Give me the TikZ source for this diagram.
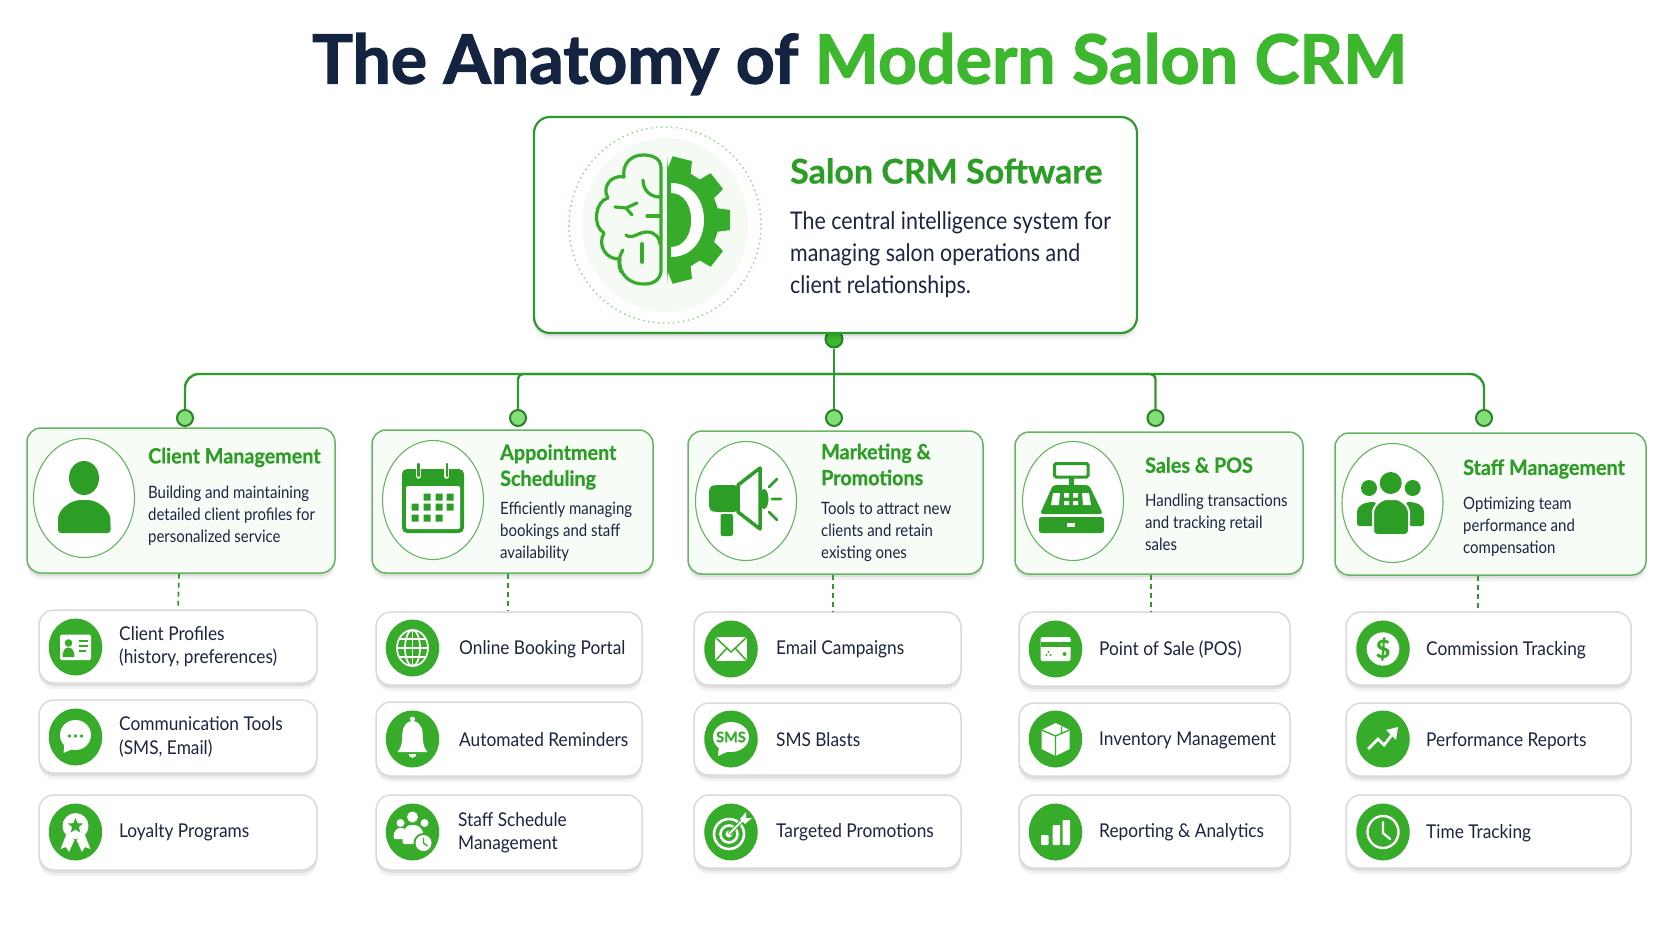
\documentclass[tikz,border=0pt]{standalone}
\usepackage{fontspec}
\setmainfont{Lato}
\newfontfamily\bannerfont{Lato}[FakeBold=1.7]
\newfontfamily\widefont{Lato}[FakeBold=.6]
\newfontfamily\headfont{Lato}[FakeStretch=.94,FakeBold=.6]
\newfontfamily\bodyfont{Lato}[FakeStretch=.88]
\newfontfamily\subfont{Lato}[FakeStretch=.91]
\usetikzlibrary{shapes.geometric,shadows}
\definecolor{navy}{HTML}{14233F}
\definecolor{ink}{HTML}{1C2540}
\definecolor{brightgreen}{HTML}{3DB82E}
\definecolor{headgreen}{HTML}{2C9E26}
\definecolor{discgreen}{HTML}{36AC2A}
\definecolor{linegreen}{HTML}{2E9A2E}
\definecolor{cardline}{HTML}{66B561}
\definecolor{cardfill}{HTML}{F8FCF7}
\definecolor{subline}{HTML}{DADADA}
\definecolor{halo}{HTML}{F5FBF4}
\definecolor{dotfill}{HTML}{86DE78}
\tikzset{
softshadow/.style={drop shadow={shadow xshift=0pt,shadow yshift=-3pt,opacity=.08,fill=black},drop shadow={shadow xshift=0pt,shadow yshift=-6pt,opacity=.05,fill=black}},
maincard/.style={draw=linegreen,fill=white,line width=2.2,rounded corners=16,inner sep=0,softshadow},
seccard/.style={draw=cardline,fill=cardfill,line width=1.5,rounded corners=14,inner sep=0,softshadow},
subcard/.style={draw=subline,fill=white,line width=1.5,rounded corners=15,inner sep=0,softshadow},
secring/.style={ellipse,draw=cardline,fill=white,line width=1.1,inner sep=0,minimum width=101,minimum height=119},
disc/.style={ellipse,fill=discgreen,inner sep=0,minimum width=53.5,minimum height=57},
hubdot/.style={circle,draw=linegreen!85!black,fill=brightgreen,line width=2,inner sep=0,minimum size=17},
enddot/.style={circle,draw=linegreen!85!black,fill=dotfill,line width=2,inner sep=0,minimum size=16},
bus/.style={draw=linegreen,line width=2.4},
droplink/.style={draw=linegreen,line width=1.7,dash pattern=on 5pt off 4pt},
sectitle/.style={anchor=west,inner sep=0,align=left,text=headgreen,font=\headfont\bfseries\fontsize{21}{26}\selectfont},
secdesc/.style={anchor=west,inner sep=0,align=left,text=ink,font=\bodyfont\fontsize{17}{22}\selectfont},
subtext/.style={anchor=west,inner sep=0,align=left,text=ink,font=\subfont\fontsize{19}{23.5}\selectfont},
}
\begin{document}
\begin{tikzpicture}[x=1pt,y=-1pt]
\useasboundingbox (0,0) rectangle (1672,941);
\fill[white] (0,0) rectangle (1672,941);
%heading
\node[anchor=west,inner sep=0,text=navy,font=\bannerfont\bfseries\fontsize{68}{80}\selectfont] (heading) at (312,64) {The Anatomy of \textcolor{brightgreen}{Modern Salon CRM}};
%main card, the dot goes under it
\node[hubdot] (hubdot) at (834,339) {};
\node[maincard,minimum width=603,minimum height=216] (main) at (835.5,225) {};
\node[ellipse,draw=brightgreen!55!white,fill=white,line width=1.5,dash pattern=on 1.5pt off 3.5pt,inner sep=0,minimum width=192,minimum height=196] (mainring) at (665,225) {};
\node[ellipse,fill=halo,inner sep=0,minimum width=166,minimum height=174] (mainhalo) at (665,225) {};
\node[anchor=west,inner sep=0,text=headgreen,font=\widefont\bfseries\fontsize{34}{38}\selectfont] (maintitle) at (790,171) {Salon CRM Software};
\node[anchor=west,inner sep=0,align=left,text=ink,font=\bodyfont\fontsize{24.3}{32}\selectfont] (maindesc) at (790,255) {The central intelligence system for\\managing salon operations and\\client relationships.};
%brain
\begin{scope}[draw=discgreen,line width=3.2,line cap=round,line join=round]
\draw (661,168) .. controls (661,158) and (652,155) .. (643,155) .. controls (630,155) and (622,165) .. (624,177) .. controls (612,174) and (601,187) .. (608,198) .. controls (595,201) and (592,226) .. (604,233) .. controls (597,245) and (606,260) .. (620,259) .. controls (618,274) and (630,285) .. (645,284) .. controls (655,284) and (661,278) .. (661,270) -- cycle;
\draw (643,180) .. controls (643,190) and (650,197) .. (660,197);
\draw (615,207) -- (626,208) -- (637,203);
\draw (626,208) -- (632,215);
\draw (647,216) -- (660,216);
\draw (626,235) .. controls (632,240) and (638,232) .. (647,232) .. controls (655,232) and (660,238) .. (660,244);
\draw (623,250) .. controls (618,258) and (618,265) .. (621,272);
\draw[line width=3.8] (642,244) -- (642,262);
\end{scope}
%gear
\begin{scope}[shift={(667,220)}]
\fill[discgreen] (0,-63) foreach \a in {-76,-38,0,38,76} {-- ({\a-13}:52) -- ({\a-9}:64) -- ({\a+9}:64) -- ({\a+13}:52)} -- (0,63) -- cycle;
\fill[white] (4,-37) .. controls (48,-37) and (48,37) .. (4,37) -- (4,27) .. controls (31,27) and (31,-27) .. (4,-27) -- cycle;
\end{scope}
%trunk and branches
\coordinate (bushub) at (834,374);
\node[enddot] (clientdot) at (185,418) {};
\node[enddot] (apptdot) at (518,418) {};
\node[enddot] (marketdot) at (834,418) {};
\node[enddot] (salesdot) at (1155.5,418) {};
\node[enddot] (staffdot) at (1484,418) {};
\draw[bus,rounded corners=14] (clientdot) |- (bushub) -| (staffdot);
\draw[bus,rounded corners=5] (apptdot) |- (bushub);
\draw[bus,rounded corners=5] (salesdot) |- (bushub);
\draw[bus] (hubdot) -- (marketdot);
%client column
\node[seccard,minimum width=308,minimum height=145] (client) at (181,500.5) {};
\node[secring] (clientring) at (84,498) {};
\node[sectitle] (clienttitle) at (148,457.5) {Client Management};
\node[secdesc] (clientdesc) at (148,516) {Building and maintaining\\detailed client profiles for\\personalized service};
\fill[headgreen] (84,478) ellipse (15 and 17);
\fill[headgreen,rounded corners=3] (58,522) .. controls (58,510) and (70,500) .. (84,500) .. controls (98,500) and (110,510) .. (110.5,522) -- (110.5,533) -- (58,533) -- cycle;
\node[subcard,minimum width=278,minimum height=73] (clientA) at (178,646.5) {};
\node[subcard,minimum width=278,minimum height=73] (clientB) at (178,736.5) {};
\node[subcard,minimum width=278,minimum height=75] (clientC) at (178,832.5) {};
\draw[droplink] ([xshift=-2pt]client.south) -- (clientA.north);
\node[disc] (clientAdisc) at (75.5,647) {};
\node[disc] (clientBdisc) at (75.5,737) {};
\node[disc] (clientCdisc) at (75.5,832) {};
\node[subtext] (clientAtext) at (119,646.5) {Client Profiles\\(history, preferences)};
\node[subtext] (clientBtext) at (119,737) {Communication Tools\\(SMS, Email)};
\node[subtext] (clientCtext) at (119,832.5) {Loyalty Programs};
%id card
\begin{scope}[shift={(clientAdisc.center)}]
\fill[white,rounded corners=1.5] (-15.5,-12.5) rectangle (15.5,13);
\fill[discgreen] (-7,-4) circle (3.8);
\fill[discgreen] (-13,10) .. controls (-13,3) and (-10,0.5) .. (-7,0.5) .. controls (-4,0.5) and (-1,3) .. (-1,10) -- cycle;
\draw[discgreen,line width=1.3] (3,-6) -- (12,-6) (3,-1) -- (12,-1) (3,4) -- (10,4);
\end{scope}
%chat bubble
\begin{scope}[shift={(clientBdisc.center)}]
\fill[white] (0,-2) ellipse (15.5 and 15);
\fill[white] (-11,6) -- (-12,16) -- (-1,11) -- cycle;
\fill[discgreen] (-6,-1) circle (1.8) (0,-1) circle (1.8) (6,-1) circle (1.8);
\end{scope}
%award
\begin{scope}[shift={(clientCdisc.center)}]
\fill[white] (-9,2) -- (-15,17) -- (-9.5,15) -- (-6.5,20) -- (-1,8) -- cycle;
\fill[white] (9,2) -- (15,17) -- (9.5,15) -- (6.5,20) -- (1,8) -- cycle;
\fill[white] (0,-6) circle (13);
\begin{scope}[shift={(0,-6)}]
\fill[discgreen] (-90:8) foreach \a in {1,...,9} {-- ({-90+36*\a}:{8-4.5*mod(\a,2)})} -- cycle;
\end{scope}
\end{scope}
%appointment column
\node[seccard,minimum width=281,minimum height=143] (appt) at (512.5,501.5) {};
\node[secring] (apptring) at (433,500) {};
\node[sectitle] (appttitle) at (500,467) {Appointment\\Scheduling};
\node[secdesc] (apptdesc) at (500,532) {Efficiently managing\\bookings and staff\\availability};
%calendar
\fill[headgreen,rounded corners=5] (402,469) rectangle (464,533);
\fill[white,rounded corners=2] (406,486) rectangle (460,529);
\draw[white,line width=5.5,line cap=round] (418.5,466) -- (418.5,476) (446.7,466) -- (446.7,476);
\draw[headgreen,line width=2.4,line cap=round] (418.5,464) -- (418.5,476) (446.7,464) -- (446.7,476);
\fill[headgreen] (423.5,493.5) rectangle +(7,7) (435.5,493.5) rectangle +(7,7) (446.5,493.5) rectangle +(7,7);
\fill[headgreen] (411.5,503.5) rectangle +(7,7) (423.5,503.5) rectangle +(7,7) (435.5,503.5) rectangle +(7,7) (446.5,503.5) rectangle +(7,7);
\fill[headgreen] (411.5,514.5) rectangle +(7,7) (423.5,514.5) rectangle +(7,7) (435.5,514.5) rectangle +(7,7);
\node[subcard,minimum width=266,minimum height=73] (apptA) at (509,648.5) {};
\node[subcard,minimum width=266,minimum height=74] (apptB) at (509,739) {};
\node[subcard,minimum width=266,minimum height=75] (apptC) at (509,832.5) {};
\draw[droplink] ([xshift=-4.5pt]appt.south) -- ([xshift=-1pt]apptA.north);
\node[disc] (apptAdisc) at (412.5,648) {};
\node[disc] (apptBdisc) at (412.5,739) {};
\node[disc] (apptCdisc) at (412.5,832) {};
\node[subtext] (apptAtext) at (459,649) {Online Booking Portal};
\node[subtext] (apptBtext) at (459,740) {Automated Reminders};
\node[subtext] (apptCtext) at (458,832.5) {Staff Schedule\\Management};
%globe
\begin{scope}[shift={(apptAdisc.center)},white,line width=1.7]
\draw (0,0) ellipse (15.5 and 18);
\draw (0,0) ellipse (7.5 and 18);
\draw (0,-18) -- (0,18);
\draw (-15,0) -- (15,0);
\draw (-12.5,-9) -- (12.5,-9);
\draw (-12.5,9) -- (12.5,9);
\end{scope}
%bell
\begin{scope}[shift={(apptBdisc.center)}]
\fill[white] (0,-20) circle (2.5);
\fill[white] (-15,13) .. controls (-9,6) and (-11,0) .. (-10,-7) .. controls (-9,-15) and (-4,-18) .. (0,-18) .. controls (4,-18) and (9,-15) .. (10,-7) .. controls (11,0) and (9,6) .. (15,13) -- cycle;
\fill[white] (-4,15) .. controls (-3,20) and (3,20) .. (4,15) -- cycle;
\end{scope}
%staff and clock
\begin{scope}[shift={(apptCdisc.center)}]
\fill[white] (0,-15) circle (5.5) (-12,-9) circle (4) (12,-9) circle (4);
\fill[white,rounded corners=2] (-19,7) .. controls (-19,-1) and (-15,-4) .. (-11,-4) -- (-8,-4) -- (-8,7) -- cycle;
\fill[white,rounded corners=2] (-10,12) .. controls (-10,-4) and (-5,-7) .. (0,-7) .. controls (5,-7) and (11,-4) .. (11,6) -- (2,12) -- cycle;
\fill[discgreen] (11,11) circle (10);
\fill[white] (11,11) circle (8);
\draw[discgreen,line width=1.4] (11,6) -- (11,11) -- (15,14);
\end{scope}
%marketing column
\node[seccard,minimum width=295,minimum height=143] (market) at (835.5,502.5) {};
\node[secring] (marketring) at (746,501) {};
\node[sectitle] (markettitle) at (821,464.5) {Marketing \&\\Promotions};
\node[secdesc] (marketdesc) at (821,532) {Tools to attract new\\clients and retain\\existing ones};
%megaphone
\fill[headgreen,rounded corners=4] (709,499) -- (709,487) -- (714,485) -- (738,485) -- (738,512) -- (714,512) -- (709,510) -- cycle;
\fill[headgreen,rounded corners=2] (720.5,514) rectangle (733,536);
\fill[headgreen] (764,499) ellipse (4.5 and 10);
\draw[headgreen,fill=white,line width=3.5,line join=round] (738,485) -- (760,468) -- (760,529) -- (738,512) -- cycle;
\draw[headgreen,line width=2.6,line cap=round] (769,487) -- (777,479) (772,499) -- (781,499) (769,512) -- (777,520);
\node[subcard,minimum width=267,minimum height=73] (marketA) at (827.5,648.5) {};
\node[subcard,minimum width=267,minimum height=72] (marketB) at (827.5,739) {};
\node[subcard,minimum width=267,minimum height=73] (marketC) at (827.5,831.5) {};
\draw[droplink] ([xshift=-2.5pt]market.south) -- ([xshift=5.5pt]marketA.north);
\node[disc] (marketAdisc) at (731,649) {};
\node[disc] (marketBdisc) at (731,739) {};
\node[disc] (marketCdisc) at (731,832) {};
\node[subtext] (marketAtext) at (776,649) {Email Campaigns};
\node[subtext] (marketBtext) at (776,739.5) {SMS Blasts};
\node[subtext] (marketCtext) at (776,832) {Targeted Promotions};
%envelope
\begin{scope}[shift={(marketAdisc.center)}]
\fill[white] (-16,-12) rectangle (16,12);
\draw[discgreen,line width=1.5] (-16,-12) -- (0,3) -- (16,-12) (-16,12) -- (-4,-1) (16,12) -- (4,-1);
\end{scope}
%sms bubble
\begin{scope}[shift={(marketBdisc.center)}]
\fill[white] (0,-2) ellipse (18 and 15);
\fill[white] (-12,7) -- (-13,17) -- (-2,12) -- cycle;
\node[inner sep=0,text=discgreen,font=\widefont\bfseries\fontsize{14.5}{15}\selectfont] (smsword) at (0,-2) {SMS};
\end{scope}
%target
\begin{scope}[shift={(marketCdisc.center)}]
\draw[white,line width=2.6] (-2,2) circle (15);
\draw[white,line width=2.6] (-2,2) circle (8.5);
\fill[white] (-2,2) circle (3.5);
\draw[discgreen,line width=4] (-2,2) -- (14,-14);
\draw[white,line width=2] (-2,2) -- (13,-13);
\fill[white] (9,-13) -- (15,-20) -- (15,-14) -- (21,-14) -- (14,-8) -- cycle;
\end{scope}
%sales column
\node[seccard,minimum width=288,minimum height=142] (sales) at (1159,503) {};
\node[secring] (salesring) at (1073,501) {};
\node[sectitle] (salestitle) at (1145,465) {Sales \& POS};
\node[secdesc] (salesdesc) at (1145,522) {Handling transactions\\and tracking retail\\sales};
%register
\draw[headgreen,line width=3,rounded corners=1.5] (1054.5,463.5) rectangle (1088,477);
\fill[headgreen] (1068.5,477) rectangle (1073.5,486);
\fill[headgreen,rounded corners=3] (1053,485) -- (1089,485) -- (1103,514) -- (1040,514) -- cycle;
\fill[white] (1053,493) -- (1060,493) -- (1059,505) -- (1051,505) -- cycle (1064,493) rectangle (1069,497.5) (1073,493) rectangle (1078,497.5) (1064,501) rectangle (1069,505) (1073,501) rectangle (1078,505) (1082,493) -- (1089,493) -- (1091,505) -- (1083,505) -- cycle;
\fill[headgreen,rounded corners=2.5] (1039,517) rectangle (1104,533);
\fill[white] (1067,523) rectangle (1075,527);
\node[subcard,minimum width=271,minimum height=74] (salesA) at (1154.5,649) {};
\node[subcard,minimum width=271,minimum height=73] (salesB) at (1154.5,739.5) {};
\node[subcard,minimum width=271,minimum height=73] (salesC) at (1154.5,831.5) {};
\draw[droplink] ([xshift=-8pt]sales.south) -- ([xshift=-3.5pt]salesA.north);
\node[disc] (salesAdisc) at (1055.5,649) {};
\node[disc] (salesBdisc) at (1055.5,739) {};
\node[disc] (salesCdisc) at (1055.5,832) {};
\node[subtext] (salesAtext) at (1099,650) {Point of Sale (POS)};
\node[subtext] (salesBtext) at (1099,740) {Inventory Management};
\node[subtext] (salesCtext) at (1099,832) {Reporting \& Analytics};
%credit card
\begin{scope}[shift={(salesAdisc.center)}]
\fill[white,rounded corners=1.5] (-15,-12) rectangle (15,12);
\fill[discgreen] (-15,-7) rectangle (15,-2);
\fill[discgreen] (-9,6) circle (1.2) (-5,6) circle (1.2) (-7,3) circle (1.2) (9,5) circle (2);
\end{scope}
%box
\begin{scope}[shift={(salesBdisc.center)}]
\fill[white] (0,-16) -- (14,-9) -- (14,10) -- (0,17) -- (-14,10) -- (-14,-9) -- cycle;
\draw[discgreen,line width=1.3] (-14,-9) -- (0,-3) -- (14,-9) (0,-3) -- (0,17) (6,-12.5) -- (6,-6);
\end{scope}
%bars
\begin{scope}[shift={(salesCdisc.center)}]
\fill[white,rounded corners=1] (-14.5,3) rectangle (-7,13) (-3,-7) rectangle (4.5,13) (7,-12) rectangle (14.5,13);
\end{scope}
%staff column
\node[seccard,minimum width=311,minimum height=142] (staff) at (1490.5,504) {};
\node[secring] (staffring) at (1392.5,503) {};
\node[sectitle] (stafftitle) at (1463,469) {Staff Management};
\node[secdesc] (staffdesc) at (1463,527) {Optimizing team\\performance and\\compensation};
%people
\fill[headgreen] (1369,488) circle (8) (1412.7,488) circle (8) (1390.7,483) circle (11);
\fill[headgreen,rounded corners=2.5] (1357,526) -- (1357,514) .. controls (1357,506) and (1364,502) .. (1376,502) -- (1376,526) -- cycle;
\fill[headgreen,rounded corners=2.5] (1424,526) -- (1424,514) .. controls (1424,506) and (1417,502) .. (1406,502) -- (1406,526) -- cycle;
\draw[white,fill=headgreen,line width=2,rounded corners=4] (1373,535) -- (1373,517) .. controls (1373,505) and (1382,499) .. (1391,499) .. controls (1400,499) and (1409,505) .. (1409,517) -- (1409,535) -- cycle;
\node[subcard,minimum width=285,minimum height=73] (staffA) at (1488.5,648.5) {};
\node[subcard,minimum width=285,minimum height=73] (staffB) at (1488.5,739.5) {};
\node[subcard,minimum width=285,minimum height=73] (staffC) at (1488.5,831.5) {};
\draw[droplink] ([xshift=-12.5pt]staff.south) -- ([xshift=-10.5pt]staffA.north);
\node[disc] (staffAdisc) at (1383,649) {};
\node[disc] (staffBdisc) at (1383,739) {};
\node[disc] (staffCdisc) at (1383,832) {};
\node[subtext] (staffAtext) at (1426,650.5) {Commission Tracking};
\node[subtext] (staffBtext) at (1426,741) {Performance Reports};
\node[subtext] (staffCtext) at (1426,833) {Time Tracking};
%dollar
\begin{scope}[shift={(staffAdisc.center)}]
\fill[white] (0,0) ellipse (16.3 and 16.7);
\node[inner sep=0,text=discgreen,font=\widefont\bfseries\fontsize{25}{26}\selectfont] (dollarsign) at (0,0) {\$};
\end{scope}
%trend
\begin{scope}[shift={(staffBdisc.center)}]
\draw[white,line width=2.8,line join=miter] (-15,10) -- (-5,0) -- (1,6) -- (11,-7);
\fill[white] (3,-9) -- (15,-12) -- (13,1) -- cycle;
\end{scope}
%clock
\begin{scope}[shift={(staffCdisc.center)}]
\draw[white,line width=2.4] (0,0) ellipse (15.5 and 16);
\draw[white,line width=2.2,line cap=round] (0,-10) -- (0,1) -- (7,7);
\end{scope}
\end{tikzpicture}
\end{document}
